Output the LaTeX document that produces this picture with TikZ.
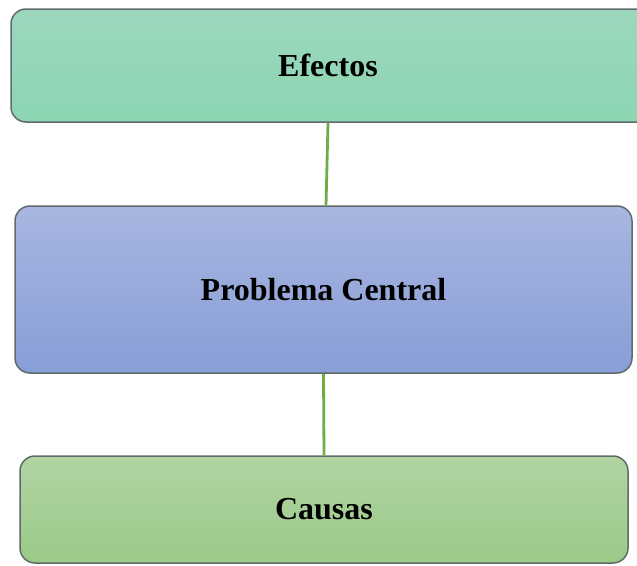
\documentclass[tikz,border=0pt]{standalone}
\usepackage{fontspec}
\setmainfont{Liberation Serif}
\usetikzlibrary{positioning}

\definecolor{efectoTop}{HTML}{9CD7BD}
\definecolor{efectoBot}{HTML}{8CD6B2}
\definecolor{problemaTop}{HTML}{A8B6E0}
\definecolor{problemaBot}{HTML}{889ED7}
\definecolor{causaTop}{HTML}{B0D4A2}
\definecolor{causaBot}{HTML}{9BCA88}
\definecolor{borde}{HTML}{5F6B6A}
\definecolor{enlace}{HTML}{70AD47}

\begin{document}
\begin{tikzpicture}[x=1pt, y=-1pt,
    caja/.style={rectangle, rounded corners=15pt, draw=borde, line width=1.5pt,
      font=\fontsize{32}{38}\selectfont\bfseries, inner sep=0pt},
    enlace/.style={draw=enlace, line width=2.8pt}]
  \useasboundingbox (0,0) rectangle (637,565);
  \clip (0,0) rectangle (637,565);
  % cajas
  \node[caja, top color=efectoTop, bottom color=efectoBot,
    minimum width=650pt, minimum height=113pt] (efectos) at (336,65.5) {\hspace*{-16pt}Efectos};
  \node[caja, top color=problemaTop, bottom color=problemaBot,
    minimum width=617pt, minimum height=167pt] (problema) at (323.5,289.5) {Problema Central};
  \node[caja, top color=causaTop, bottom color=causaBot,
    minimum width=608pt, minimum height=107pt] (causas) at (324,509.5) {\raisebox{-3pt}{Causas}};
  % lineas
  \draw[enlace] ([xshift=-8pt]efectos.south) -- ([xshift=2.5pt]problema.north);
  \draw[enlace] (problema.south) -- (causas.north);
\end{tikzpicture}
\end{document}
